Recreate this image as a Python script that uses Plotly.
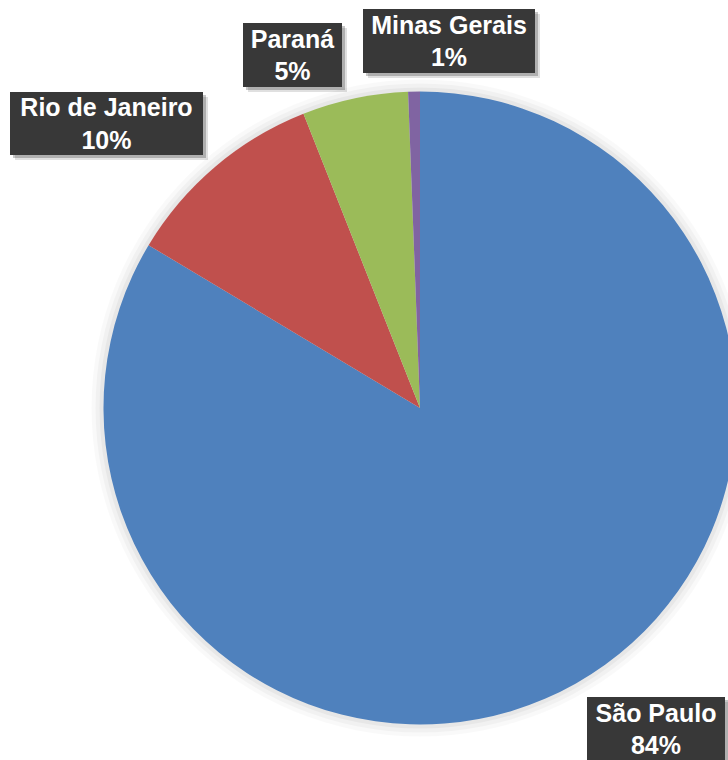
import plotly.graph_objects as go

# Share of the total by state
states = ["São Paulo", "Rio de Janeiro", "Paraná", "Minas Gerais"]
shares = [83.6, 10.4, 5.4, 0.6]
colors = ["#4F81BD", "#C0504D", "#9BBB59", "#8064A2"]

W, H = 760, 760          # canvas is a bit wider than the window so the pie runs off the right edge
CX, CY, R = 420, 408, 316.5


def px_x(x):
    return x / W


def px_y(y):
    return 1 - y / H


def pie_domain(r):
    return dict(x=[px_x(CX - r), px_x(CX + r)], y=[px_y(CY + r), px_y(CY - r)])


fig = go.Figure()

# soft drop shadow around the pie
for extra, alpha in [(12, 0.025), (8, 0.03), (4, 0.04)]:
    fig.add_trace(go.Pie(
        values=[1], labels=[""], domain=pie_domain(R + extra),
        marker=dict(colors=[f"rgba(0,0,0,{alpha})"], line=dict(width=0)),
        textinfo="none", hoverinfo="skip", showlegend=False, sort=False,
    ))

fig.add_trace(go.Pie(
    labels=states, values=shares, domain=pie_domain(R),
    sort=False, direction="clockwise", rotation=0,
    marker=dict(colors=colors, line=dict(width=0)),
    textinfo="none", hoverinfo="label+percent", showlegend=False,
))

# label boxes: (left, top, width, height) in pixels
boxes = [
    (587, 697, 138, 64),
    (10, 92, 193, 63),
    (243, 23, 99, 64),
    (363, 9, 172, 64),
]

total = sum(shares)
shapes = []
annotations = []
for name, val, (bx, by, bw, bh) in zip(states, shares, boxes):
    # shadow behind each box
    for off, alpha in [(5, 0.12), (3, 0.22)]:
        shapes.append(dict(
            type="rect", xref="paper", yref="paper", layer="above",
            x0=px_x(bx + off), x1=px_x(bx + bw + off),
            y0=px_y(by + bh + off), y1=px_y(by + off),
            fillcolor=f"rgba(0,0,0,{alpha})", line=dict(width=0),
        ))
    pct = round(val / total * 100)
    annotations.append(dict(
        xref="paper", yref="paper",
        x=px_x(bx + bw / 2), y=px_y(by + bh / 2),
        xanchor="center", yanchor="middle",
        text=f"<b>{name}<br>{pct}%</b>",
        showarrow=False, align="center",
        width=bw, height=bh, borderpad=0, borderwidth=0,
        bgcolor="#383838",
        font=dict(family="Liberation Sans, Arial", size=25, color="white"),
    ))

fig.update_layout(
    width=W, height=H,
    margin=dict(l=0, r=0, t=0, b=0),
    paper_bgcolor="white", plot_bgcolor="white",
    shapes=shapes, annotations=annotations,
)

fig.write_html(
    "out.html",
    post_script="document.body.style.margin='0';document.body.style.overflow='hidden';",
)
